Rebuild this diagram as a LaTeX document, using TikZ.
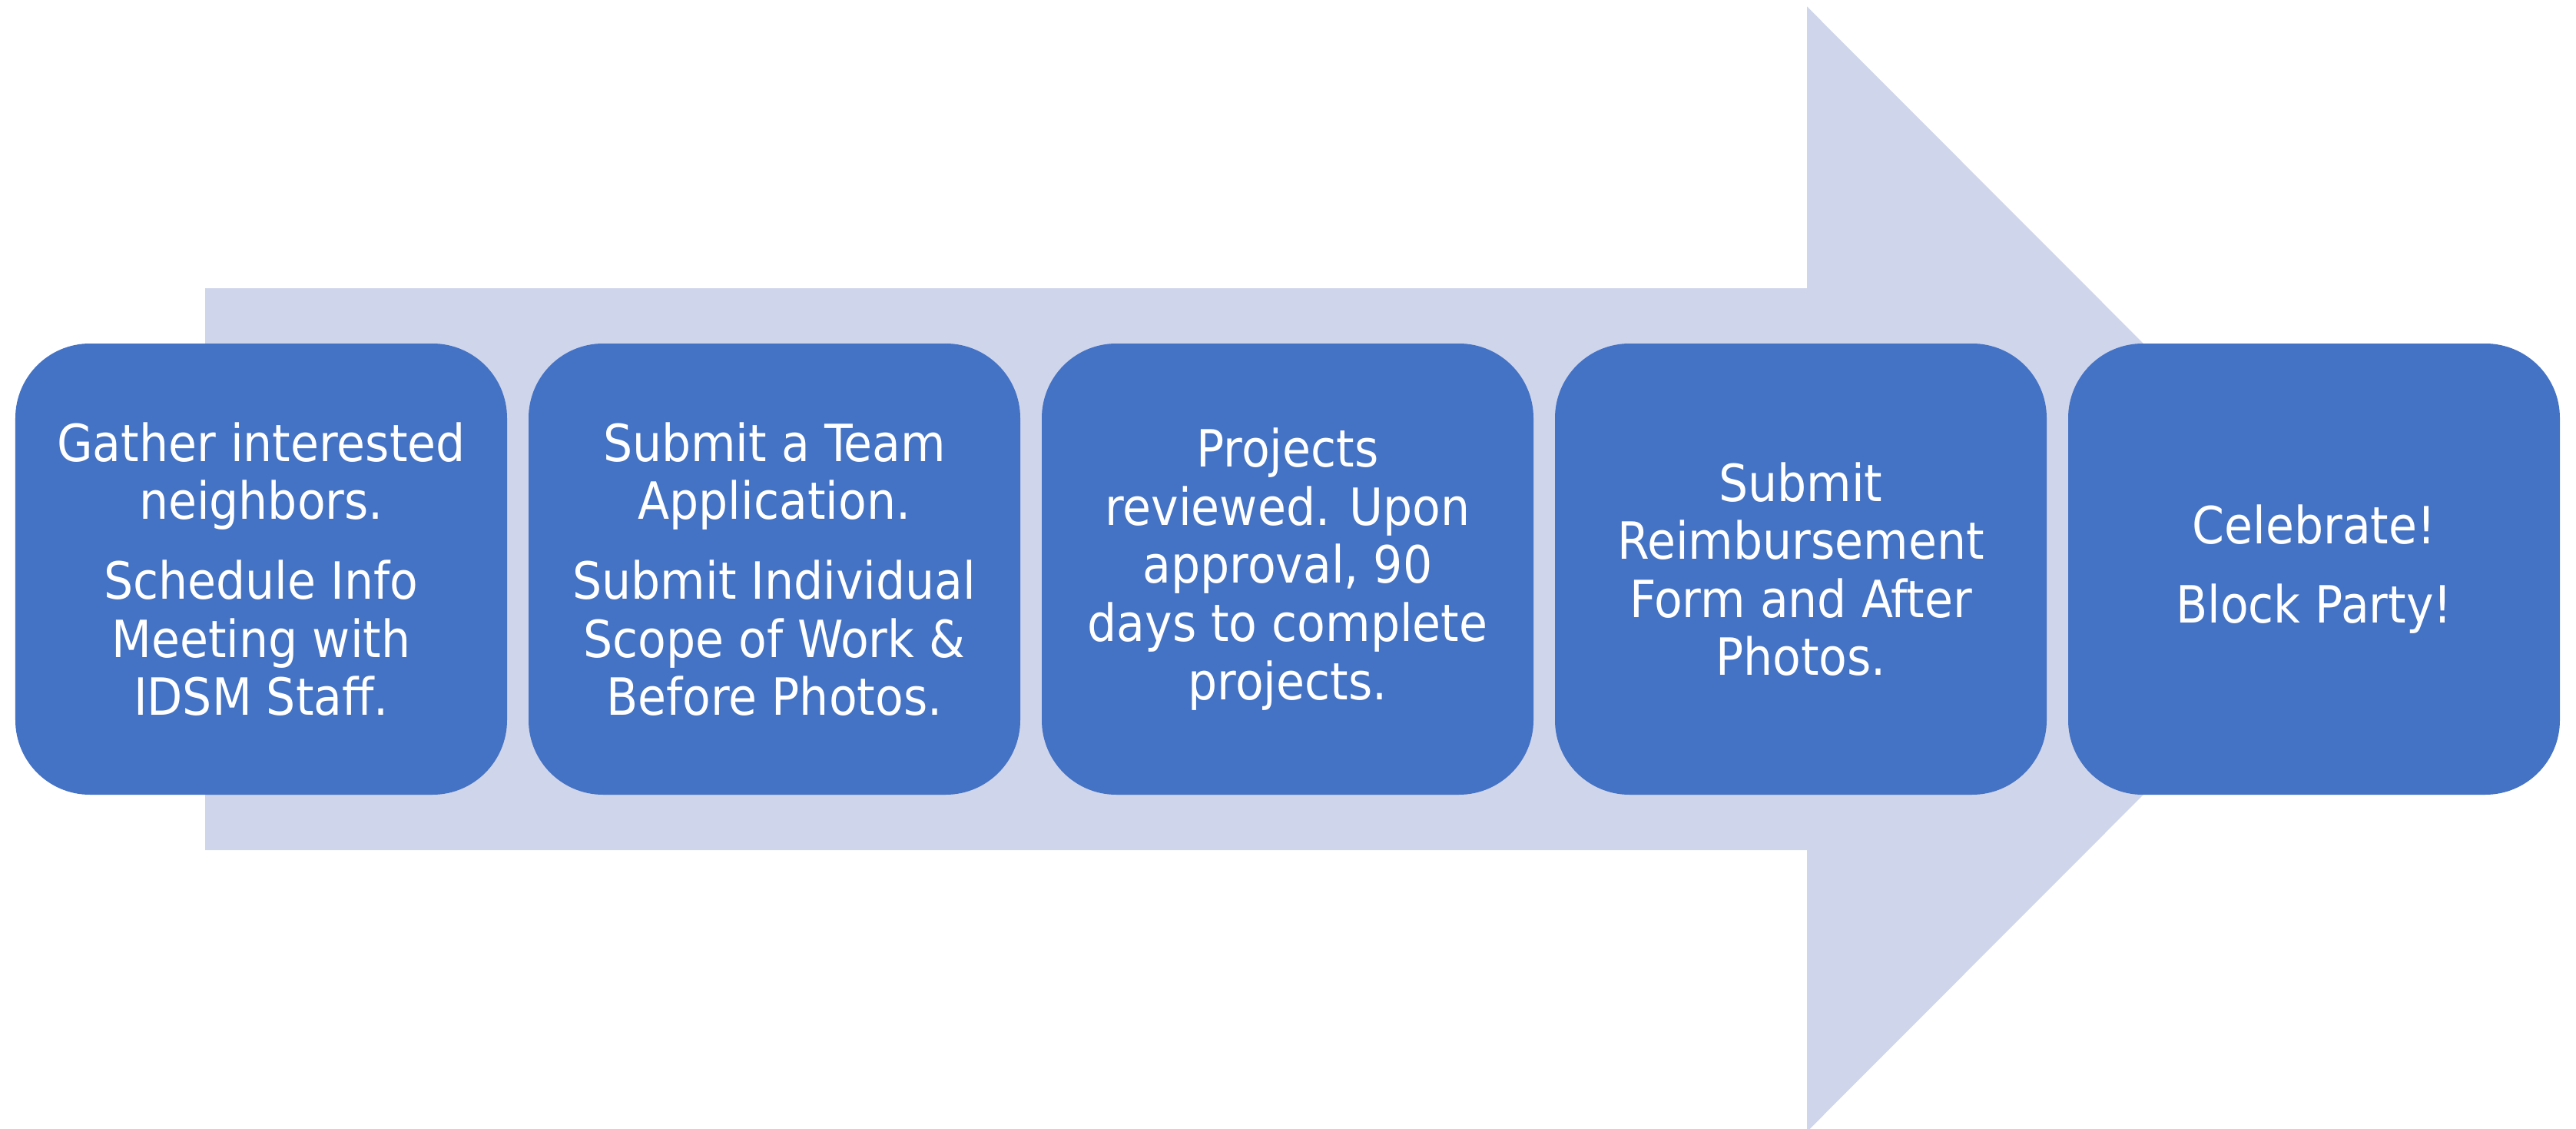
\documentclass[tikz,border=0pt]{standalone}
\usepackage{fontspec}
\setmainfont{DejaVu Sans Condensed}
\usepackage{tikz}
\usetikzlibrary{%
  positioning
}
\definecolor{boxblue}{HTML}{4472C4}
\definecolor{bandblue}{HTML}{CFD5EA}
\tikzstyle{flow}=[node distance=6.68cm,on grid]
\tikzstyle{st}=[rectangle,rounded corners=0.97cm,fill=boxblue,text=white,minimum width=6.4cm,minimum height=5.87cm,inner sep=0pt,align=center,font=\fontsize{19}{21.5}\selectfont]
\tikzstyle{band}=[fill=bandblue]

\begin{document}
\begin{tikzpicture}[flow]
      \useasboundingbox (0,0) rectangle (33.53,14.68);
      % wide arrow behind the steps
      \fill[band] (2.67,3.62) -- (2.67,10.93) -- (23.52,10.93) -- (23.52,14.595)
        -- (30.83,7.275) -- (23.52,-0.045) -- (23.52,3.62) -- cycle;
      \node[st] (s_1) at (3.40,7.275) {Gather interested\\neighbors.\\[8pt]Schedule Info\\Meeting with\\IDSM Staff.};
      \node[st] (s_2) [right=of s_1] {Submit a Team\\Application.\\[8pt]Submit Individual\\Scope of Work \&\\Before Photos.};
      \node[st] (s_3) [right=of s_2] {Projects\\reviewed. Upon\\approval, 90\\days to complete\\projects.};
      \node[st] (s_4) [right=of s_3] {Submit\\Reimbursement\\Form and After\\Photos.};
      \node[st] (s_5) [right=of s_4] {Celebrate!\\[8pt]Block Party!};
    \end{tikzpicture}
\end{document}
